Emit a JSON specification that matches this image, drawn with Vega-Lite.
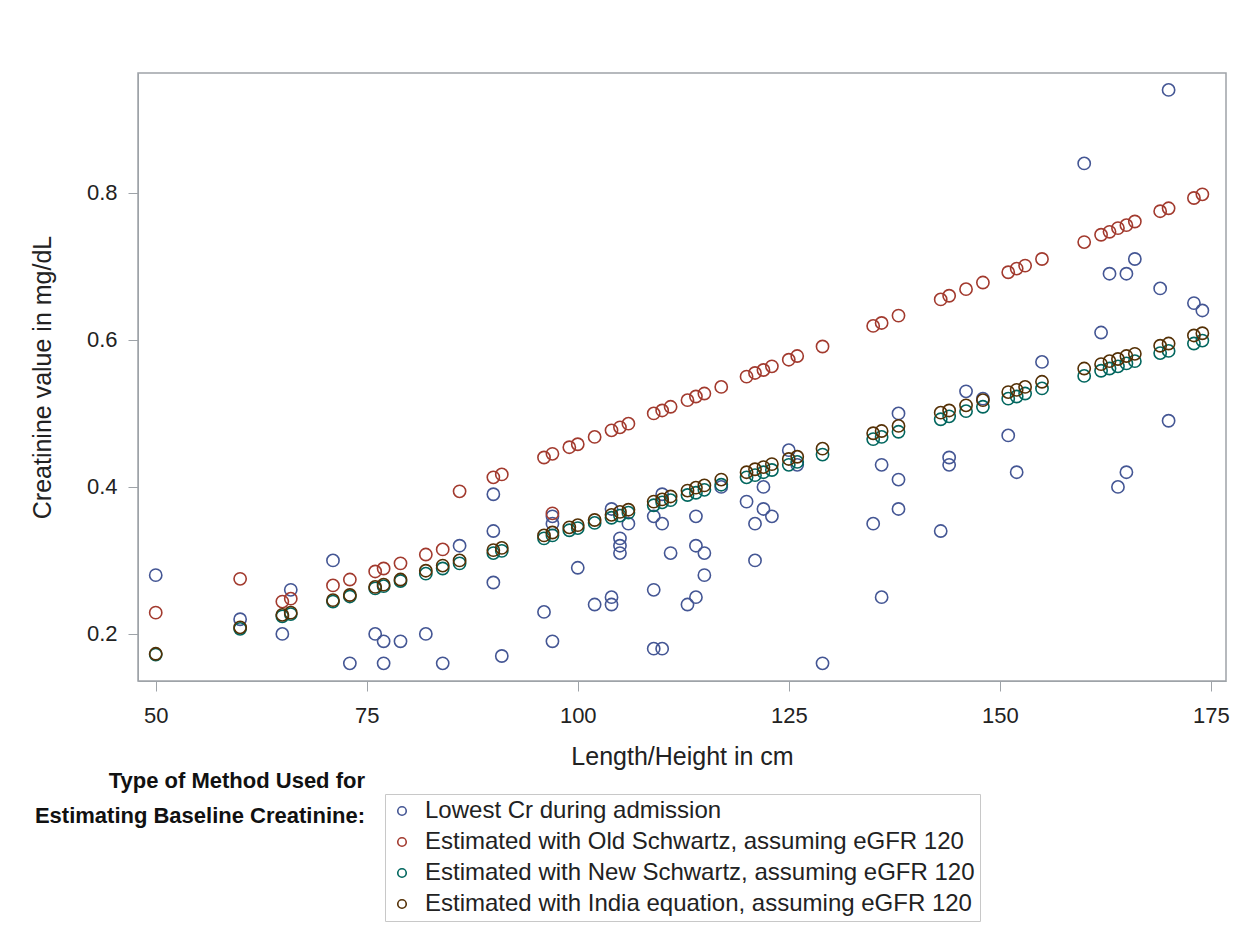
{
  "$schema": "https://vega.github.io/schema/vega-lite/v6.json",
  "width": 1088,
  "height": 608,
  "autosize": {"type": "none"},
  "padding": {"left": 138, "top": 73, "right": 25, "bottom": 258},
  "background": "white",
  "config": {
    "font": "Liberation Sans",
    "view": {"stroke": "#9ea3a8", "strokeWidth": 1.5}
  },
  "title": {
    "text": ["Type of Method Used for", "Estimating Baseline Creatinine:"],
    "orient": "bottom",
    "anchor": "start",
    "align": "right",
    "frame": "group",
    "dx": 227,
    "offset": -151,
    "fontSize": 22,
    "fontWeight": "bold",
    "lineHeight": 35,
    "color": "#111111"
  },
  "datasets": {
    "pts": [
      {"h":50,"cr":0.28,"m":"L"},{"h":60,"cr":0.22,"m":"L"},{"h":65,"cr":0.20,"m":"L"},{"h":66,"cr":0.26,"m":"L"},{"h":71,"cr":0.30,"m":"L"},{"h":73,"cr":0.16,"m":"L"},{"h":76,"cr":0.20,"m":"L"},{"h":77,"cr":0.19,"m":"L"},{"h":77,"cr":0.16,"m":"L"},{"h":79,"cr":0.19,"m":"L"},{"h":82,"cr":0.20,"m":"L"},{"h":84,"cr":0.16,"m":"L"},{"h":86,"cr":0.32,"m":"L"},{"h":90,"cr":0.39,"m":"L"},{"h":90,"cr":0.34,"m":"L"},{"h":90,"cr":0.27,"m":"L"},{"h":91,"cr":0.17,"m":"L"},{"h":96,"cr":0.23,"m":"L"},{"h":97,"cr":0.36,"m":"L"},{"h":97,"cr":0.35,"m":"L"},{"h":97,"cr":0.19,"m":"L"},{"h":100,"cr":0.29,"m":"L"},{"h":102,"cr":0.24,"m":"L"},{"h":104,"cr":0.25,"m":"L"},{"h":104,"cr":0.24,"m":"L"},{"h":104,"cr":0.37,"m":"L"},{"h":105,"cr":0.33,"m":"L"},{"h":105,"cr":0.32,"m":"L"},{"h":105,"cr":0.31,"m":"L"},{"h":106,"cr":0.35,"m":"L"},{"h":109,"cr":0.36,"m":"L"},{"h":109,"cr":0.26,"m":"L"},{"h":109,"cr":0.18,"m":"L"},{"h":110,"cr":0.39,"m":"L"},{"h":110,"cr":0.35,"m":"L"},{"h":110,"cr":0.18,"m":"L"},{"h":111,"cr":0.31,"m":"L"},{"h":113,"cr":0.24,"m":"L"},{"h":114,"cr":0.25,"m":"L"},{"h":114,"cr":0.36,"m":"L"},{"h":114,"cr":0.32,"m":"L"},{"h":115,"cr":0.31,"m":"L"},{"h":115,"cr":0.28,"m":"L"},{"h":117,"cr":0.40,"m":"L"},{"h":120,"cr":0.38,"m":"L"},{"h":121,"cr":0.35,"m":"L"},{"h":121,"cr":0.30,"m":"L"},{"h":122,"cr":0.40,"m":"L"},{"h":122,"cr":0.37,"m":"L"},{"h":123,"cr":0.36,"m":"L"},{"h":125,"cr":0.45,"m":"L"},{"h":126,"cr":0.43,"m":"L"},{"h":129,"cr":0.16,"m":"L"},{"h":135,"cr":0.35,"m":"L"},{"h":136,"cr":0.43,"m":"L"},{"h":136,"cr":0.25,"m":"L"},{"h":138,"cr":0.50,"m":"L"},{"h":138,"cr":0.41,"m":"L"},{"h":138,"cr":0.37,"m":"L"},{"h":143,"cr":0.34,"m":"L"},{"h":144,"cr":0.44,"m":"L"},{"h":144,"cr":0.43,"m":"L"},{"h":146,"cr":0.53,"m":"L"},{"h":148,"cr":0.52,"m":"L"},{"h":151,"cr":0.47,"m":"L"},{"h":152,"cr":0.42,"m":"L"},{"h":155,"cr":0.57,"m":"L"},{"h":160,"cr":0.84,"m":"L"},{"h":162,"cr":0.61,"m":"L"},{"h":163,"cr":0.69,"m":"L"},{"h":164,"cr":0.40,"m":"L"},{"h":165,"cr":0.69,"m":"L"},{"h":165,"cr":0.42,"m":"L"},{"h":166,"cr":0.71,"m":"L"},{"h":169,"cr":0.67,"m":"L"},{"h":170,"cr":0.94,"m":"L"},{"h":170,"cr":0.49,"m":"L"},{"h":173,"cr":0.65,"m":"L"},{"h":174,"cr":0.64,"m":"L"},

      {"h":50,"cr":0.229,"m":"O"},{"h":60,"cr":0.275,"m":"O"},{"h":65,"cr":0.244,"m":"O"},{"h":66,"cr":0.248,"m":"O"},{"h":71,"cr":0.266,"m":"O"},{"h":73,"cr":0.274,"m":"O"},{"h":76,"cr":0.285,"m":"O"},{"h":77,"cr":0.289,"m":"O"},{"h":79,"cr":0.296,"m":"O"},{"h":82,"cr":0.308,"m":"O"},{"h":84,"cr":0.315,"m":"O"},{"h":86,"cr":0.394,"m":"O"},{"h":90,"cr":0.413,"m":"O"},{"h":91,"cr":0.417,"m":"O"},{"h":96,"cr":0.440,"m":"O"},{"h":97,"cr":0.445,"m":"O"},{"h":97,"cr":0.364,"m":"O"},{"h":99,"cr":0.454,"m":"O"},{"h":100,"cr":0.458,"m":"O"},{"h":102,"cr":0.468,"m":"O"},{"h":104,"cr":0.477,"m":"O"},{"h":105,"cr":0.481,"m":"O"},{"h":106,"cr":0.486,"m":"O"},{"h":109,"cr":0.500,"m":"O"},{"h":110,"cr":0.504,"m":"O"},{"h":111,"cr":0.509,"m":"O"},{"h":113,"cr":0.518,"m":"O"},{"h":114,"cr":0.523,"m":"O"},{"h":115,"cr":0.527,"m":"O"},{"h":117,"cr":0.536,"m":"O"},{"h":120,"cr":0.550,"m":"O"},{"h":121,"cr":0.555,"m":"O"},{"h":122,"cr":0.559,"m":"O"},{"h":123,"cr":0.564,"m":"O"},{"h":125,"cr":0.573,"m":"O"},{"h":126,"cr":0.578,"m":"O"},{"h":129,"cr":0.591,"m":"O"},{"h":135,"cr":0.619,"m":"O"},{"h":136,"cr":0.623,"m":"O"},{"h":138,"cr":0.633,"m":"O"},{"h":143,"cr":0.655,"m":"O"},{"h":144,"cr":0.660,"m":"O"},{"h":146,"cr":0.669,"m":"O"},{"h":148,"cr":0.678,"m":"O"},{"h":151,"cr":0.692,"m":"O"},{"h":152,"cr":0.697,"m":"O"},{"h":153,"cr":0.701,"m":"O"},{"h":155,"cr":0.710,"m":"O"},{"h":160,"cr":0.733,"m":"O"},{"h":162,"cr":0.743,"m":"O"},{"h":163,"cr":0.747,"m":"O"},{"h":164,"cr":0.752,"m":"O"},{"h":165,"cr":0.756,"m":"O"},{"h":166,"cr":0.761,"m":"O"},{"h":169,"cr":0.775,"m":"O"},{"h":170,"cr":0.779,"m":"O"},{"h":173,"cr":0.793,"m":"O"},{"h":174,"cr":0.798,"m":"O"},

      {"h":50,"cr":0.172,"m":"N"},{"h":60,"cr":0.207,"m":"N"},{"h":65,"cr":0.224,"m":"N"},{"h":66,"cr":0.227,"m":"N"},{"h":71,"cr":0.244,"m":"N"},{"h":73,"cr":0.251,"m":"N"},{"h":76,"cr":0.262,"m":"N"},{"h":77,"cr":0.265,"m":"N"},{"h":79,"cr":0.272,"m":"N"},{"h":82,"cr":0.282,"m":"N"},{"h":84,"cr":0.289,"m":"N"},{"h":86,"cr":0.296,"m":"N"},{"h":90,"cr":0.310,"m":"N"},{"h":91,"cr":0.313,"m":"N"},{"h":96,"cr":0.330,"m":"N"},{"h":97,"cr":0.334,"m":"N"},{"h":99,"cr":0.341,"m":"N"},{"h":100,"cr":0.344,"m":"N"},{"h":102,"cr":0.351,"m":"N"},{"h":104,"cr":0.358,"m":"N"},{"h":105,"cr":0.361,"m":"N"},{"h":106,"cr":0.365,"m":"N"},{"h":109,"cr":0.375,"m":"N"},{"h":110,"cr":0.379,"m":"N"},{"h":111,"cr":0.382,"m":"N"},{"h":113,"cr":0.389,"m":"N"},{"h":114,"cr":0.392,"m":"N"},{"h":115,"cr":0.396,"m":"N"},{"h":117,"cr":0.403,"m":"N"},{"h":120,"cr":0.413,"m":"N"},{"h":121,"cr":0.416,"m":"N"},{"h":122,"cr":0.420,"m":"N"},{"h":123,"cr":0.423,"m":"N"},{"h":125,"cr":0.430,"m":"N"},{"h":126,"cr":0.434,"m":"N"},{"h":129,"cr":0.444,"m":"N"},{"h":135,"cr":0.465,"m":"N"},{"h":136,"cr":0.468,"m":"N"},{"h":138,"cr":0.475,"m":"N"},{"h":143,"cr":0.492,"m":"N"},{"h":144,"cr":0.496,"m":"N"},{"h":146,"cr":0.503,"m":"N"},{"h":148,"cr":0.509,"m":"N"},{"h":151,"cr":0.520,"m":"N"},{"h":152,"cr":0.523,"m":"N"},{"h":153,"cr":0.527,"m":"N"},{"h":155,"cr":0.534,"m":"N"},{"h":160,"cr":0.551,"m":"N"},{"h":162,"cr":0.558,"m":"N"},{"h":163,"cr":0.561,"m":"N"},{"h":164,"cr":0.564,"m":"N"},{"h":165,"cr":0.568,"m":"N"},{"h":166,"cr":0.571,"m":"N"},{"h":169,"cr":0.582,"m":"N"},{"h":170,"cr":0.585,"m":"N"},{"h":173,"cr":0.595,"m":"N"},{"h":174,"cr":0.599,"m":"N"},

      {"h":50,"cr":0.173,"m":"I"},{"h":60,"cr":0.209,"m":"I"},{"h":65,"cr":0.226,"m":"I"},{"h":66,"cr":0.229,"m":"I"},{"h":71,"cr":0.246,"m":"I"},{"h":73,"cr":0.253,"m":"I"},{"h":76,"cr":0.264,"m":"I"},{"h":77,"cr":0.267,"m":"I"},{"h":79,"cr":0.274,"m":"I"},{"h":82,"cr":0.286,"m":"I"},{"h":84,"cr":0.293,"m":"I"},{"h":86,"cr":0.300,"m":"I"},{"h":90,"cr":0.314,"m":"I"},{"h":91,"cr":0.317,"m":"I"},{"h":96,"cr":0.334,"m":"I"},{"h":97,"cr":0.338,"m":"I"},{"h":99,"cr":0.345,"m":"I"},{"h":100,"cr":0.348,"m":"I"},{"h":102,"cr":0.355,"m":"I"},{"h":104,"cr":0.362,"m":"I"},{"h":105,"cr":0.366,"m":"I"},{"h":106,"cr":0.369,"m":"I"},{"h":109,"cr":0.380,"m":"I"},{"h":110,"cr":0.383,"m":"I"},{"h":111,"cr":0.387,"m":"I"},{"h":113,"cr":0.395,"m":"I"},{"h":114,"cr":0.399,"m":"I"},{"h":115,"cr":0.402,"m":"I"},{"h":117,"cr":0.410,"m":"I"},{"h":120,"cr":0.420,"m":"I"},{"h":121,"cr":0.424,"m":"I"},{"h":122,"cr":0.427,"m":"I"},{"h":123,"cr":0.431,"m":"I"},{"h":125,"cr":0.438,"m":"I"},{"h":126,"cr":0.441,"m":"I"},{"h":129,"cr":0.452,"m":"I"},{"h":135,"cr":0.473,"m":"I"},{"h":136,"cr":0.476,"m":"I"},{"h":138,"cr":0.483,"m":"I"},{"h":143,"cr":0.501,"m":"I"},{"h":144,"cr":0.504,"m":"I"},{"h":146,"cr":0.511,"m":"I"},{"h":148,"cr":0.518,"m":"I"},{"h":151,"cr":0.529,"m":"I"},{"h":152,"cr":0.532,"m":"I"},{"h":153,"cr":0.536,"m":"I"},{"h":155,"cr":0.543,"m":"I"},{"h":160,"cr":0.561,"m":"I"},{"h":162,"cr":0.567,"m":"I"},{"h":163,"cr":0.571,"m":"I"},{"h":164,"cr":0.574,"m":"I"},{"h":165,"cr":0.578,"m":"I"},{"h":166,"cr":0.581,"m":"I"},{"h":169,"cr":0.592,"m":"I"},{"h":170,"cr":0.595,"m":"I"},{"h":173,"cr":0.606,"m":"I"},{"h":174,"cr":0.609,"m":"I"}
    ]
  },
  "data": {"name": "pts"},
  "mark": {"type": "point", "shape": "circle", "filled": false, "size": 150, "strokeWidth": 1.6, "opacity": 1},
  "encoding": {
    "x": {
      "field": "h", "type": "quantitative",
      "scale": {"domain": [47.9, 176.8], "nice": false, "zero": false},
      "axis": {
        "values": [50, 75, 100, 125, 150, 175],
        "title": "Length/Height in cm",
        "grid": false,
        "domainColor": "#9ea3a8", "tickColor": "#9ea3a8", "tickSize": 10,
        "labelFontSize": 22, "labelColor": "#222222", "labelPadding": 14,
        "titleFontSize": 25, "titleFontWeight": "normal", "titleColor": "#222222", "titlePadding": 18
      }
    },
    "y": {
      "field": "cr", "type": "quantitative",
      "scale": {"domain": [0.136, 0.963], "nice": false, "zero": false},
      "axis": {
        "values": [0.2, 0.4, 0.6, 0.8],
        "format": ".1f",
        "title": "Creatinine value in mg/dL",
        "grid": false,
        "domainColor": "#9ea3a8", "tickColor": "#9ea3a8", "tickSize": 10,
        "labelFontSize": 22, "labelColor": "#222222", "labelPadding": 11,
        "titleFontSize": 25, "titleFontWeight": "normal", "titleColor": "#222222", "titlePadding": 31
      }
    },
    "color": {
      "field": "m", "type": "nominal",
      "scale": {"domain": ["L", "O", "N", "I"], "range": ["#445694", "#A23A2E", "#01665E", "#543005"]},
      "legend": {
        "orient": "none",
        "legendX": 247,
        "legendY": 721,
        "title": null,
        "direction": "vertical",
        "strokeColor": "#c8c8c8",
        "fillColor": "white",
        "padding": 5,
        "rowPadding": 7,
        "labelFontSize": 24,
        "labelColor": "#222222",
        "labelOffset": 11,
        "labelLimit": 800,
        "symbolSize": 72,
        "symbolStrokeWidth": 1.6,
        "symbolType": "circle",
        "labelExpr": "datum.value == 'L' ? 'Lowest Cr during admission' : datum.value == 'O' ? 'Estimated with Old Schwartz, assuming eGFR 120' : datum.value == 'N' ? 'Estimated with New Schwartz, assuming eGFR 120' : 'Estimated with India equation, assuming eGFR 120'"
      }
    }
  }
}
